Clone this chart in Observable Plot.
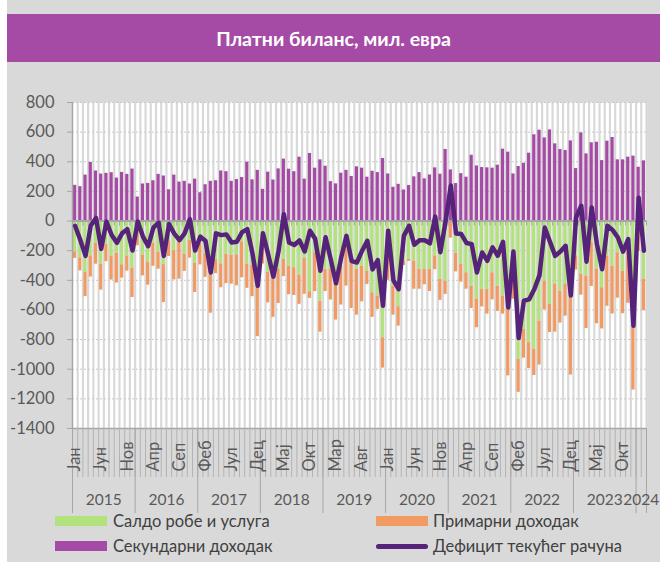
<!DOCTYPE html>
<html><head><meta charset="utf-8">
<script src="https://cdn.jsdelivr.net/npm/d3@7"></script>
<script src="https://cdn.jsdelivr.net/npm/@observablehq/plot@0.6"></script>
<style>
body{margin:0;background:#fff;font-family:Lato,"Open Sans",sans-serif;}
#panel{position:absolute;left:7px;top:0;width:653px;height:562px;background:#d9d9d9;}
#head{position:absolute;left:7px;top:14px;width:653px;height:48px;background:#a54ba6;color:#fff;font-weight:bold;font-size:19.5px;text-align:center;line-height:50px;}
#chart{position:absolute;left:7px;top:62px;}
.sw{position:absolute;width:52px;height:10px;}
.lt{position:absolute;font-size:16.5px;color:#404040;line-height:20px;white-space:nowrap;}
</style></head>
<body>
<div id="panel"></div>
<div id="head">Платни биланс, мил. евра</div>
<div id="chart"></div>
<div class="sw" style="left:55px;top:516px;background:#b1e27c"></div>
<div class="lt" style="left:113px;top:511px">Салдо робе и услуга</div>
<div class="sw" style="left:55px;top:541px;background:#a54ba6"></div>
<div class="lt" style="left:113px;top:536px">Секундарни доходак</div>
<div class="sw" style="left:376px;top:516px;background:#f19a62"></div>
<div class="lt" style="left:433px;top:511px">Примарни доходак</div>
<div class="sw" style="left:376px;top:544px;height:5px;border-radius:3px;background:#55237a"></div>
<div class="lt" style="left:433px;top:536px">Дефицит текућег рачуна</div>
<script>
const monthNames = ["Јан","Феб","Мар","Апр","Мај","Јун","Јул","Авг","Сеп","Окт","Нов","Дец"];
const years = [2015,2016,2017,2018,2019,2020,2021,2022,2023,2024];
const yTicks = [800,600,400,200,0,-200,-400,-600,-800,-1000,-1200,-1400];

const secondaryIncome = [241,232,310,396,338,317,322,326,290,328,315,351,
162,250,254,272,315,304,211,310,263,268,250,283,
191,245,268,272,338,333,268,280,294,398,278,342,
214,330,277,352,418,350,333,431,283,456,357,413,
370,266,251,323,342,301,366,357,296,336,327,422,
318,228,248,210,240,298,327,285,311,359,316,483,
345,253,320,296,444,372,361,359,357,377,485,465,
318,368,390,458,582,613,561,615,521,483,476,541,
354,595,453,528,532,408,539,564,413,413,431,438,
363,406];

const goodsServices = [-207,-248,-347,-235,-150,-291,-156,-235,-218,-295,-235,-320,
-77,-229,-280,-148,-210,-294,-133,-198,-132,-223,-130,-284,
-150,-221,-361,-260,-289,-226,-230,-228,-140,-290,-300,-440,
-150,-347,-349,-326,-259,-304,-315,-365,-252,-477,-214,-540,
-326,-326,-371,-304,-191,-281,-326,-304,-338,-484,-506,-787,
-236,-439,-578,-270,-259,-270,-326,-326,-326,-236,-394,-405,
-10,-218,-293,-349,-440,-529,-461,-461,-349,-439,-506,-596,
-214,-934,-731,-821,-866,-675,-405,-563,-428,-473,-428,-506,
-236,-360,-371,-146,-326,-450,-236,-304,-214,-338,-180,-709,
-60,-394];

const primaryIncome = [-45,-88,-163,-143,-141,-175,-118,-163,-200,-90,-103,-196,
-90,-141,-153,-157,-115,-256,-107,-199,-260,-117,-120,-198,
-146,-159,-261,-95,-161,-196,-196,-209,-243,-164,-210,-340,
-140,-205,-301,-230,-116,-193,-187,-197,-242,-45,-262,-210,
-149,-207,-297,-263,-248,-309,-309,-241,-90,-166,-90,-205,
-164,-196,-131,-30,-13,-190,-134,-104,-149,-92,-141,-90,
-105,-125,-119,-111,-150,-191,-119,-167,-183,-171,-122,-449,
-313,-222,-194,-174,-176,-297,-195,-189,-322,-215,-214,-533,
-95,-140,-354,-295,-367,-278,-339,-323,-306,-287,-375,-431,
-145,-211];

const deficit = [-32,-128,-235,-30,21,-188,-4,-94,-147,-83,-55,-199,
-3,-105,-170,-44,-10,-235,-20,-85,-128,-83,13,-199,
-105,-135,-347,-83,-95,-90,-145,-140,-75,-55,-220,-437,
-83,-225,-375,-200,46,-145,-162,-131,-205,-65,-120,-335,
-110,-260,-420,-245,-100,-270,-280,-200,-133,-326,-263,-572,
-65,-400,-460,-100,-32,-160,-130,-130,-150,30,-210,0,
240,-84,-88,-148,-156,-347,-212,-268,-178,-234,-140,-583,
-206,-790,-538,-529,-460,-365,-44,-140,-235,-206,-167,-502,
24,103,-274,92,-156,-325,-32,-60,-110,-206,-122,-707,
158,-200];

const n = deficit.length;
const rows = [];
for (let i = 0; i < n; i++) {
  rows.push({i, s: "goods", v: goodsServices[i]});
  rows.push({i, s: "primary", v: primaryIncome[i]});
  rows.push({i, s: "secondary", v: secondaryIncome[i]});
}
const months = d3.range(n).map(i => ({i, label: monthNames[i % 12], year: years[0] + Math.floor(i / 12)}));
const labeled = months.filter(d => d.i % 5 === 0);
const yearInfo = years.map(y => {
  const ms = months.filter(d => d.year === y);
  return {year: y, start: ms[0].i, end: ms[ms.length - 1].i + 1};
});
const bounds = d3.range(n + 1);
const yearBounds = [0, ...yearInfo.map(d => d.end)];
const yMin = -1400;
const pxPerUnit = 326 / 2200;

const chart = Plot.plot({
  width: 653, height: 453,
  marginLeft: 65, marginRight: 14, marginTop: 40, marginBottom: 87,
  style: {background: "transparent", fontFamily: "Lato, 'Open Sans', sans-serif"},
  x: {type: "linear", domain: [0, n], axis: null},
  y: {domain: [-1400, 800], axis: null},
  color: {domain: ["goods", "primary", "secondary"], range: ["#b1e27c", "#f19a62", "#a54ba6"]},
  marks: [
    Plot.frame({fill: "white", stroke: null}),
    Plot.ruleX(bounds.slice(1), {x: d => d, stroke: "#d9d9d9", strokeWidth: 2.2}),
    Plot.ruleY(yTicks.filter(d => d !== 0 && d !== yMin), {y: d => d, stroke: "#c9c9c9", strokeDasharray: "2,2"}),
    Plot.rectY(rows, {x: "i", interval: 1, y: "v", fill: "s", insetLeft: 1, insetRight: 1}),
    Plot.ruleY([0], {y: d => d, stroke: "#a6a6a6", strokeWidth: 2}),
    Plot.ruleX(bounds, {x: d => d, y1: 0, y2: -5 / pxPerUnit, stroke: "#a6a6a6"}),
    Plot.ruleX([0], {x: d => d, stroke: "#a6a6a6", strokeWidth: 1.5}),
    Plot.ruleY([yMin], {y: d => d, stroke: "#a6a6a6", strokeWidth: 1.5}),
    Plot.ruleX(bounds, {x: d => d, y1: yMin, y2: yMin - 49 / pxPerUnit, stroke: "#b3b3b3"}),
    Plot.ruleX(yearBounds, {x: d => d, y1: yMin, y2: yMin - 85 / pxPerUnit, stroke: "#a6a6a6"}),
    Plot.axisY(yTicks, {tickSize: 5, tickPadding: 13, stroke: "#a6a6a6", fill: "#595959", fontSize: 16.5, tickFormat: d => String(d), label: null}),
    Plot.text(labeled, {x: d => d.i + 0.5, y: yMin, dy: 43, rotate: -90, textAnchor: "start", text: "label", fill: "#595959", fontSize: 16.5}),
    Plot.text(yearInfo, {x: d => (d.start + d.end) / 2, y: yMin, dy: 72, text: d => String(d.year), fill: "#595959", fontSize: 15.5}),
    Plot.line(deficit, {x: (d, i) => i + 0.5, y: d => d, stroke: "#55237a", strokeWidth: 4.5, strokeLinejoin: "round", strokeLinecap: "round"})
  ]
});
document.getElementById("chart").appendChild(chart);
</script>
</body></html>
